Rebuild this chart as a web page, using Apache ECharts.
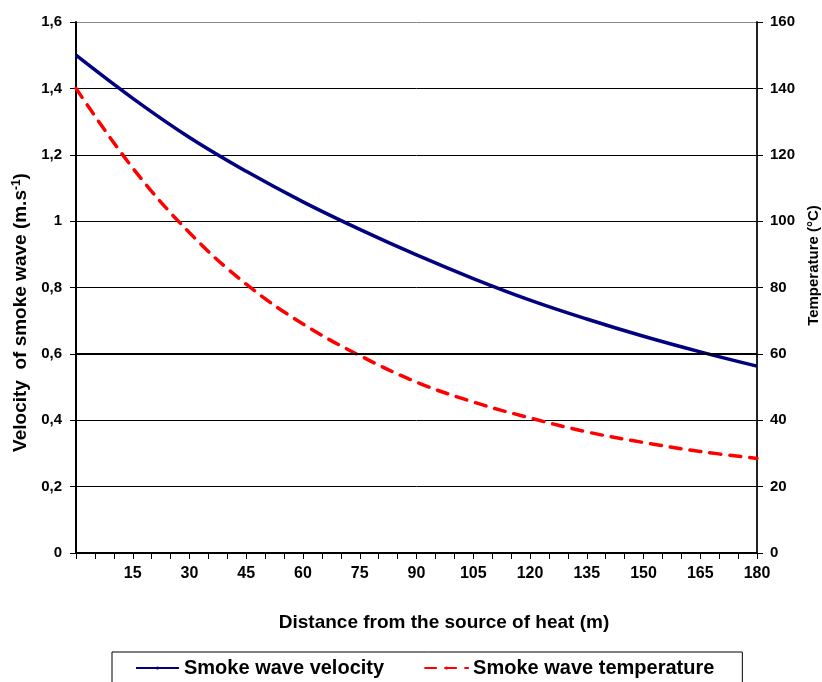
<!DOCTYPE html>
<html>
<head>
<meta charset="utf-8">
<script src="https://cdn.jsdelivr.net/npm/echarts@6/dist/echarts.min.js"></script>
<style>
  html, body { margin: 0; padding: 0; background: #fff; }
  #chart { width: 822px; height: 682px; }
</style>
</head>
<body>
<div id="chart"></div>
<script>
// distances (m)
const distance = [0, 15, 30, 45, 60, 75, 90, 105, 120, 135, 150, 165, 180];
// velocity of smoke wave (m/s)
const velocity = [1.50, 1.37, 1.252, 1.15, 1.058, 0.975, 0.898, 0.827, 0.762, 0.705, 0.653, 0.606, 0.563];
// temperature (°C)
const temperature = [140, 116, 96.5, 81, 69, 59.5, 51.5, 45.5, 40.7, 36.5, 33.3, 30.6, 28.5];

const velocityName = 'Smoke wave velocity';
const temperatureName = 'Smoke wave temperature';

const chart = echarts.init(document.getElementById('chart'));
const font = 'Liberation Sans, Arial, sans-serif';
const toComma = v => String(Math.round(v * 10) / 10).replace('.', ',');

const option = {
  animation: false,
  textStyle: { fontFamily: font },
  grid: { left: 76, right: 65, top: 22, bottom: 129, outerBoundsMode: 'none' },
  legend: {
    data: [velocityName, temperatureName],
    left: 112,
    top: 652,
    padding: [6, 28, 20, 23],
    itemGap: 40,
    itemWidth: 43,
    itemHeight: 4,
    borderColor: '#000',
    borderWidth: 1,
    textStyle: { fontFamily: font, fontWeight: 'bold', fontSize: 20, color: '#000' }
  },
  xAxis: {
    type: 'value',
    min: 0,
    max: 180,
    interval: 5,
    name: 'Distance from the source of heat (m)',
    nameLocation: 'middle',
    nameGap: 60,
    nameTextStyle: {
      fontFamily: font, fontWeight: 'bold', fontSize: 19, color: '#000',
      padding: [0, 0, 0, 55]
    },
    axisLine: { lineStyle: { color: '#000', width: 2 } },
    axisTick: { show: true, length: 6, lineStyle: { color: '#000' } },
    axisLabel: {
      formatter: v => (v > 0 && v % 15 === 0 ? String(v) : ''),
      fontWeight: 'bold', fontSize: 16, color: '#000', margin: 13
    },
    splitLine: { show: false }
  },
  yAxis: [
    {
      type: 'value',
      min: 0,
      max: 1.6,
      interval: 0.2,
      name: 'Velocity  of smoke wave (m.s{sup|-1})',
      nameLocation: 'middle',
      nameGap: 41,
      nameRotate: 90,
      nameTextStyle: {
        fontFamily: font, fontWeight: 'bold', fontSize: 19, color: '#000',
        padding: [0, 50, 0, 0],
        rich: { sup: { fontSize: 12, fontWeight: 'bold', verticalAlign: 'top', padding: [0, 0, 9, 0] } }
      },
      axisLine: { show: true, lineStyle: { color: '#000', width: 2 } },
      axisTick: { show: true, length: 6, lineStyle: { color: '#000' } },
      axisLabel: { formatter: toComma, fontWeight: 'bold', fontSize: 15, color: '#000', margin: 14 },
      splitLine: {
        show: true,
        lineStyle: { color: ['#000', '#000', '#000', '#000', '#000', '#000', '#000', '#000', '#888'], width: 1 }
      }
    },
    {
      type: 'value',
      min: 0,
      max: 160,
      interval: 20,
      position: 'right',
      name: 'Temperature (°C)',
      nameLocation: 'middle',
      nameGap: 47,
      nameRotate: 90,
      nameTextStyle: {
        fontFamily: font, fontWeight: 'bold', fontSize: 15, color: '#000',
        padding: [0, 0, 0, 44]
      },
      axisLine: { show: true, lineStyle: { color: '#222', width: 2 } },
      axisTick: { show: true, length: 6, lineStyle: { color: '#000' } },
      axisLabel: { fontWeight: 'bold', fontSize: 15, color: '#000', margin: 13 },
      splitLine: { show: false }
    }
  ],
  series: [
    {
      name: velocityName,
      type: 'line',
      yAxisIndex: 0,
      data: distance.map((d, i) => [d, velocity[i]]),
      smooth: 0.4,
      symbol: 'none',
      lineStyle: { color: '#000080', width: 3.5 },
      itemStyle: { color: '#000080' },
      // the 0,6 gridline is drawn heavier in the original
      markLine: {
        silent: true,
        symbol: 'none',
        label: { show: false },
        lineStyle: { color: '#000', width: 2, type: 'solid' },
        data: [{ yAxis: 0.6 }]
      },
      z: 3
    },
    {
      name: temperatureName,
      type: 'line',
      yAxisIndex: 1,
      data: distance.map((d, i) => [d, temperature[i]]),
      smooth: 0.4,
      symbol: 'none',
      lineStyle: { color: '#ff0000', width: 3.5, type: [11, 9], cap: 'round' },
      itemStyle: { color: '#ff0000' },
      z: 3
    }
  ]
};

chart.setOption(option);
</script>
</body>
</html>
